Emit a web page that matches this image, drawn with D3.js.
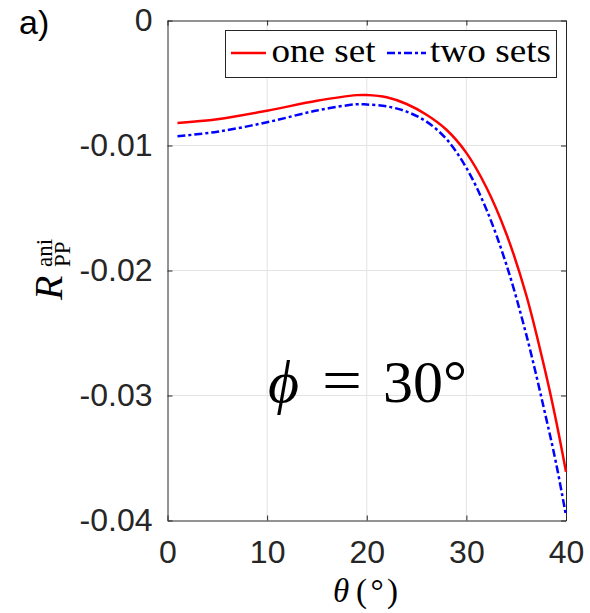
<!DOCTYPE html>
<html><head><meta charset="utf-8">
<script src="https://cdn.jsdelivr.net/npm/d3@7"></script>
<style>body{margin:0;background:#fff}</style></head>
<body><svg id="c" width="590" height="613"></svg>
<script>
// ---- data ----
const thetaOne = [1, 5, 10, 15, 19, 20, 22, 24, 26, 28, 30, 32, 34, 36, 38, 39, 40];
const oneSet   = [-0.0082, -0.0079, -0.00722, -0.00642, -0.00597, -0.00596, -0.00614, -0.00668, -0.00754, -0.00874, -0.01059, -0.01334, -0.01704, -0.02194, -0.02834, -0.0320, -0.0361];
const thetaTwo = [1, 5, 10, 15, 19, 20, 22, 24, 26, 28, 30, 32, 34, 36, 38, 39, 40];
const twoSets  = [-0.00926, -0.0089, -0.00814, -0.0072, -0.0067, -0.00672, -0.00687, -0.00729, -0.00809, -0.00949, -0.01179, -0.01509, -0.01949, -0.02509, -0.03179, -0.0354, -0.0396];
const xTicks = [0, 10, 20, 30, 40];
const xTickLabels = ["0", "10", "20", "30", "40"];
const yTicks = [0, -0.01, -0.02, -0.03, -0.04];
const yTickLabels = ["0", "-0.01", "-0.02", "-0.03", "-0.04"];
const seriesNames = ["one set", "two sets"];

// ---- layout ----
const L = 167.5, R = 566, T = 20.5, B = 520.5;
const svg = d3.select("#c");
const x = d3.scaleLinear().domain([0, 40]).range([L, R]);
const y = d3.scaleLinear().domain([-0.04, 0]).range([B, T]);
const tickFont = "'Liberation Sans', Arial, Helvetica, sans-serif";
const serif = "'Liberation Serif', 'Times New Roman', serif";

// grid
const grid = svg.append("g");
grid.selectAll("line.gx").data(xTicks.slice(1, -1)).enter().append("line")
  .attr("x1", d => x(d)).attr("x2", d => x(d)).attr("y1", T).attr("y2", B)
  .attr("stroke", "#e3e3e3").attr("stroke-width", 1);
grid.selectAll("line.gy").data(yTicks.slice(1, -1)).enter().append("line")
  .attr("y1", d => y(d)).attr("y2", d => y(d)).attr("x1", L).attr("x2", R)
  .attr("stroke", "#e3e3e3").attr("stroke-width", 1);

// axes
function styleAxis(g) {
  g.select(".domain").attr("stroke", "#262626").attr("stroke-width", 1);
  g.selectAll(".tick line").attr("stroke", "#262626").attr("stroke-width", 1);
  g.selectAll("text").attr("fill", "#262626").style("font-family", tickFont).style("font-size", "32px");
}
svg.append("g").attr("transform", `translate(0,${B})`)
  .call(d3.axisBottom(x).tickValues(xTicks).tickFormat((d, i) => xTickLabels[i]).tickSize(-5).tickSizeOuter(0).tickPadding(20))
  .call(styleAxis);
svg.append("g").attr("transform", `translate(${L},0)`)
  .call(d3.axisLeft(y).tickValues(yTicks).tickFormat((d, i) => yTickLabels[i]).tickSize(-5).tickSizeOuter(0).tickPadding(15))
  .call(styleAxis);
svg.append("g").attr("transform", `translate(0,${T})`)
  .call(d3.axisTop(x).tickValues(xTicks).tickFormat("").tickSize(-5).tickSizeOuter(0))
  .call(styleAxis);
svg.append("g").attr("transform", `translate(${R},0)`)
  .call(d3.axisRight(y).tickValues(yTicks).tickFormat("").tickSize(-5).tickSizeOuter(0))
  .call(styleAxis);

// curves
const line = d3.line().x(d => x(d[0])).y(d => y(d[1])).curve(d3.curveCatmullRom.alpha(0.5));
svg.append("path").datum(thetaTwo.map((t, i) => [t, twoSets[i]]))
  .attr("d", line).attr("fill", "none").attr("stroke", "#0000ff").attr("stroke-width", 2.5)
  .attr("stroke-dasharray", "8,3,3,3");
svg.append("path").datum(thetaOne.map((t, i) => [t, oneSet[i]]))
  .attr("d", line).attr("fill", "none").attr("stroke", "#ff0000").attr("stroke-width", 2.5);

// legend
const lg = svg.append("g");
lg.append("rect").attr("x", 225.5).attr("y", 30.5).attr("width", 331).attr("height", 47)
  .attr("fill", "#fff").attr("stroke", "#262626").attr("stroke-width", 1);
lg.append("line").attr("x1", 231).attr("x2", 266).attr("y1", 53).attr("y2", 53)
  .attr("stroke", "#ff0000").attr("stroke-width", 2.5);
lg.append("text").attr("x", 271.5).attr("y", 62).text(seriesNames[0])
  .style("font-family", serif).style("font-size", "34px").attr("textLength", 104).attr("lengthAdjust", "spacingAndGlyphs");
lg.append("line").attr("x1", 387).attr("x2", 426).attr("y1", 53).attr("y2", 53)
  .attr("stroke", "#0000ff").attr("stroke-width", 2.5).attr("stroke-dasharray", "8,3,3,3");
lg.append("text").attr("x", 430).attr("y", 62).text(seriesNames[1])
  .style("font-family", serif).style("font-size", "34px").attr("textLength", 121).attr("lengthAdjust", "spacingAndGlyphs");

// panel label
svg.append("text").attr("x", 19).attr("y", 34).text("a)")
  .style("font-family", tickFont).style("font-size", "34px").attr("fill", "#000");

// annotation phi = 30°
const ann = svg.append("g").style("font-family", serif).style("font-size", "60px").attr("fill", "#000");
ann.append("text").attr("x", 268).attr("y", 402).style("font-style", "italic").text("\u03D5");
ann.append("text").attr("x", 322).attr("y", 400).attr("textLength", 40).attr("lengthAdjust", "spacingAndGlyphs").text("=");
ann.append("text").attr("x", 383).attr("y", 402).text("30°");

// x label
const xlg = svg.append("g").style("font-family", serif).style("font-size", "33px").attr("fill", "#000");
xlg.append("text").attr("x", 333).attr("y", 602).style("font-style", "italic").text("θ");
xlg.append("text").attr("x", 356).attr("y", 602).attr("textLength", 42).attr("lengthAdjust", "spacing").text("(°)");

// y label R_PP^ani (rotated)
const yl = svg.append("g").attr("transform", "translate(62,300) rotate(-90)")
  .style("font-family", serif).attr("fill", "#000");
yl.append("text").attr("x", 0).attr("y", 0).style("font-style", "italic").style("font-size", "40px").text("R");
yl.append("text").attr("x", 33).attr("y", -10).style("font-size", "23px").text("ani");
yl.append("text").attr("x", 33).attr("y", 8).style("font-size", "23px").text("PP");
</script></body></html>
